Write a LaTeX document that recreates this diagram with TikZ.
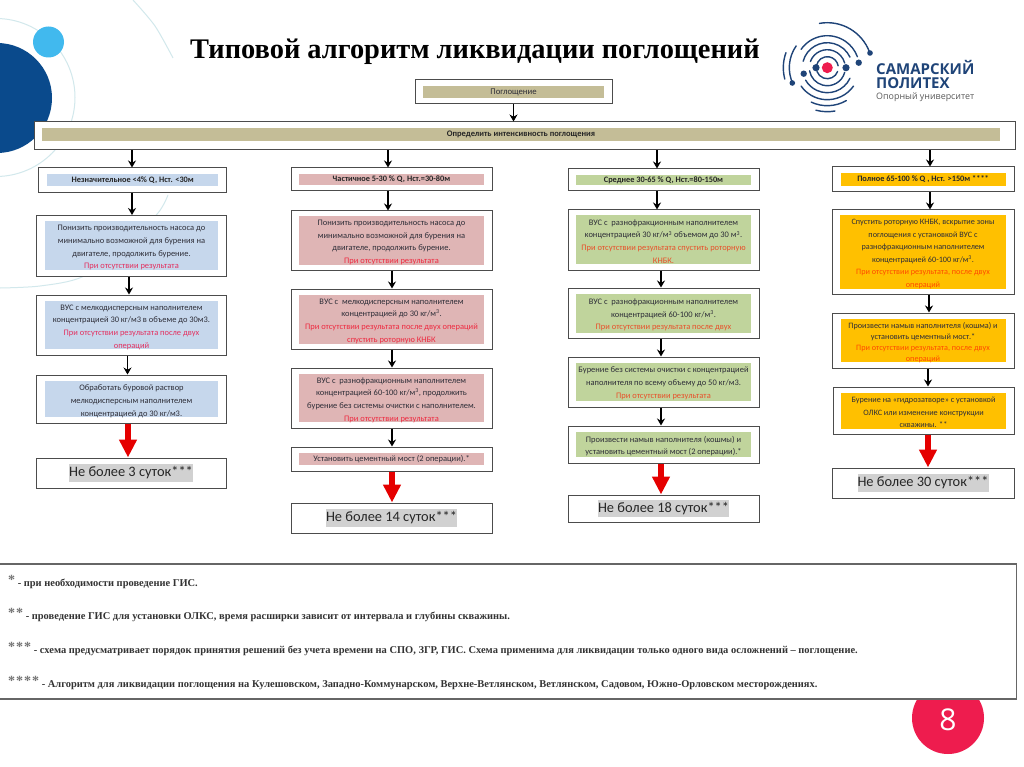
\documentclass[tikz,border=0pt]{standalone}
\usepackage{fontspec}
\setmainfont{Carlito}
\newfontfamily\serifbold{Liberation Serif}
\newfontfamily\logofont{Open Sans}
\usetikzlibrary{arrows.meta,calc}
\definecolor{BlueClr}{HTML}{C6D7EC}
\definecolor{PinkClr}{HTML}{DFB5B5}
\definecolor{GreenClr}{HTML}{C0D49C}
\definecolor{AmberClr}{HTML}{FFC000}
\definecolor{KhakiClr}{HTML}{C4BD97}
\definecolor{ResA}{HTML}{E33060}
\definecolor{ResB}{HTML}{EE2A40}
\definecolor{ResC}{HTML}{E8502A}
\definecolor{ResD}{HTML}{FF4A00}
\definecolor{InkClr}{HTML}{2E2E38}
\definecolor{NavyClr}{HTML}{0A4A8C}
\definecolor{LogoClr}{HTML}{1F4478}
\definecolor{SkyClr}{HTML}{41B9EE}
\definecolor{OrbitClr}{HTML}{D2E8EC}
\definecolor{PageClr}{HTML}{EE1C4E}
\tikzset{
  outerbox/.style={draw=black!70,line width=1pt,fill=white,inner sep=0pt},
  innerbox/.style={inner sep=0pt,align=center,text=InkClr,font=\fontsize{8.45}{12.7}\selectfont},
  headbox/.style={innerbox,text=black!85,font=\fontsize{8.3}{9}\selectfont\bfseries},
  endbox/.style={inner sep=0pt,fill=black!18,text=black!85,font=\fontsize{14.4}{18}\selectfont},
  flowarrow/.style={draw=black,line width=1.1pt,-{Stealth[length=7pt,width=8pt]}},
  redarrow/.style={draw=red!90!black,line width=6pt,-{Triangle[length=18pt,width=17pt]}},
  noteline/.style={anchor=base west,inner sep=0pt,text=black!80,font=\serifbold\fontsize{10.45}{11}\selectfont\bfseries},
  logoarc/.style={draw=LogoClr,line width=1.4pt,line cap=round},
}
\newcommand{\NoteStar}[1]{\raisebox{2pt}{\textcolor{black!55}{\fontsize{14}{14}\selectfont #1}}}
\newcommand{\TopGap}{\rule{0pt}{9.5pt}}
\begin{document}
\begin{tikzpicture}[x=1pt,y=-1pt]
\clip (0,0) rectangle (1024,767);
\fill[white] (0,0) rectangle (1024,767);

% slide background
\draw[OrbitClr,line width=1pt] (-4,97.5) circle[radius=79];
\draw[OrbitClr,line width=1pt] plot[smooth] coordinates {(133,0) (155,26) (173,58)};
\draw[OrbitClr,line width=1pt] plot[smooth] coordinates {(168,195) (158,213) (125,247) (82,277) (40,286) (0,288)};
\fill[NavyClr] (-3,98) circle[radius=55];
\fill[SkyClr] (48.5,42) circle[radius=15.5];
\fill[PageClr] (948,718) circle[radius=36];

% title and logo
\node[anchor=base west,inner sep=0pt,font=\serifbold\fontsize{28.4}{32}\selectfont\bfseries] (title) at (190,59) {Типовой алгоритм ликвидации поглощений};
\foreach \r/\a/\b in {11/190/350,11/20/160,18/200/345,18/15/170,25/195/335,25/25/150,32/215/340,32/35/145,38/155/215,38/60/115,44/165/200,45/260/340,44/80/105}
  \draw[logoarc] ($(827.3,67.7)+(\a:\r)$) arc[start angle=\a,end angle=\b,radius=\r];
\foreach \x/\y/\s in {816/67.7/3.6,846/67.7/3.6,803.7/73.7/3.2,858.7/62.7/3.2,792.3/83/2.8,870/53/2.8}
  \fill[LogoClr] (\x,\y) circle[radius=\s];
\fill[PageClr] (827.3,67.7) circle[radius=5.5];
\node[anchor=base west,inner sep=0pt,text=LogoClr,font=\logofont\fontsize{15}{16}\selectfont\bfseries] (logoa) at (876,75) {САМАРСКИЙ};
\node[anchor=base west,inner sep=0pt,text=LogoClr,font=\logofont\fontsize{15}{16}\selectfont\bfseries] (logob) at (876,89) {ПОЛИТЕХ};
\node[anchor=base west,inner sep=0pt,text=black!65,font=\logofont\fontsize{8.9}{10}\selectfont] (logoc) at (876,100) {Опорный университет};

% top
\node[outerbox,minimum width=197,minimum height=24] (start) at (513.5,92) {};
\node[innerbox,fill=KhakiClr,minimum width=181,minimum height=12,font=\fontsize{8.7}{9}\selectfont] (startt) at (start) {Поглощение};
\node[outerbox,minimum width=981,minimum height=28] (bar) at (524.5,136) {};
\node[innerbox,fill=KhakiClr,minimum width=958,minimum height=13,text=black!85,font=\fontsize{8.5}{9}\selectfont\bfseries] (bart) at (521,134.5) {Определить интенсивность поглощения};
\draw[flowarrow,line width=.8pt] (start.south) -- (start.south |- bar.north);

% column A
\node[outerbox,minimum width=188,minimum height=24.5] (hA) at (132.75,180.25) {};
\node[headbox,fill=BlueClr,minimum width=171,minimum height=12] (hAt) at (hA) {Незначительное <4\% Q, Нст. <30м};
\node[outerbox,minimum width=190,minimum height=60.5] (bA1) at (131.5,245.75) {};
\node[innerbox,fill=BlueClr,minimum width=173,minimum height=48] (bA1t) at (bA1) {\TopGap Понизить производительность насоса до\\минимально возможной для бурения на\\двигателе, продолжить бурение.\\\textcolor{ResA}{При отсутствии результата}};
\node[outerbox,minimum width=189.5,minimum height=60] (bA2) at (131.25,325) {};
\node[innerbox,fill=BlueClr,minimum width=173,minimum height=48] (bA2t) at (131.5,325) {\TopGap ВУС с мелкодисперсным наполнителем\\концентрацией 30 кг/м3 в объеме до 30м3.\\\textcolor{ResA}{При отсутствии результата после двух}\\\textcolor{ResA}{операций}};
\node[outerbox,minimum width=189.5,minimum height=48.5] (bA3) at (131.25,399.25) {};
\node[innerbox,fill=BlueClr,minimum width=173,minimum height=36] (bA3t) at (131.5,399.25) {\TopGap Обработать буровой раствор\\мелкодисперсным наполнителем\\концентрацией до 30 кг/м3.};
\node[outerbox,minimum width=190,minimum height=30] (eA) at (131,473) {};
\node[endbox,minimum width=122,minimum height=18] (eAt) at (eA) {Не более 3 суток***};
\draw[flowarrow] (bar.south -| 132,0) -- (hA.north -| 132,0);
\draw[flowarrow] (hA.south -| 132,0) -- (bA1.north -| 132,0);
\draw[flowarrow] (bA1.south -| 129,0) -- (bA2.north -| 129,0);
\draw[flowarrow] (bA2.south -| 127.5,0) -- (bA3.north -| 127.5,0);
\draw[redarrow] (bA3.south -| 128,0) -- (eA.north -| 128,0);

% column B
\node[outerbox,minimum width=201,minimum height=23] (hB) at (391.5,179.5) {};
\node[headbox,fill=PinkClr,minimum width=185,minimum height=10.5] (hBt) at (hB) {Частичное 5-30 \% Q, Нст.=30-80м};
\node[outerbox,minimum width=201,minimum height=59] (bB1) at (391.5,240.5) {};
\node[innerbox,fill=PinkClr,minimum width=185,minimum height=47] (bB1t) at (bB1) {\TopGap Понизить производительность насоса до\\минимально возможной для бурения на\\двигателе, продолжить бурение.\\\textcolor{ResB}{При отсутствии результата}};
\node[outerbox,minimum width=201,minimum height=60] (bB2) at (391.5,319) {};
\node[innerbox,fill=PinkClr,minimum width=185,minimum height=49] (bB2t) at (bB2) {\TopGap ВУС с~~мелкодисперсным наполнителем\\концентрацией до 30 кг/м\textsuperscript{3}.\\\textcolor{ResB}{При отсутствии результата после двух операций}\\\textcolor{ResB}{спустить роторную КНБК}};
\node[outerbox,minimum width=201,minimum height=60] (bB3) at (391.5,398) {};
\node[innerbox,fill=PinkClr,minimum width=185,minimum height=48] (bB3t) at (bB3) {\TopGap ВУС с~~разнофракционным наполнителем\\концентрацией 60-100 кг/м\textsuperscript{3}, продолжить\\бурение без системы очистки с наполнителем.\\\textcolor{ResB}{При отсутствии результата}};
\node[outerbox,minimum width=201,minimum height=24] (bB4) at (391.5,459) {};
\node[innerbox,fill=PinkClr,minimum width=185,minimum height=12] (bB4t) at (bB4) {Установить цементный мост (2 операции).*};
\node[outerbox,minimum width=201,minimum height=30] (eB) at (391.5,518) {};
\node[endbox,minimum width=130,minimum height=18] (eBt) at (eB) {Не более 14 суток***};
\draw[flowarrow] (bar.south -| 388,0) -- (hB.north -| 388,0);
\draw[flowarrow] (hB.south -| 388,0) -- (bB1.north -| 388,0);
\draw[flowarrow] (bB1.south -| 392,0) -- (bB2.north -| 392,0);
\draw[flowarrow] (bB2.south -| 392,0) -- (bB3.north -| 392,0);
\draw[flowarrow] (bB3.south -| 392,0) -- (bB4.north -| 392,0);
\draw[redarrow] (bB4.south -| 392,0) -- (eB.north -| 392,0);

% column C
\node[outerbox,minimum width=191,minimum height=22] (hC) at (663.5,180) {};
\node[headbox,fill=GreenClr,minimum width=175,minimum height=10.5] (hCt) at (hC) {Среднее 30-65 \% Q, Нст.=80-150м};
\node[outerbox,minimum width=191,minimum height=60] (bC1) at (663.5,240) {};
\node[innerbox,fill=GreenClr,minimum width=175,minimum height=49] (bC1t) at (663.5,239.5) {\TopGap ВУС с~~разнофракционным наполнителем\\концентрацией 30 кг/м\textsuperscript{3} объемом до 30 м\textsuperscript{3}.\\\textcolor{ResC}{При отсутствии результата спустить роторную}\\\textcolor{ResC}{КНБК.}};
\node[outerbox,minimum width=191,minimum height=50] (bC2) at (663.5,313) {};
\node[innerbox,fill=GreenClr,minimum width=175,minimum height=39] (bC2t) at (bC2) {\TopGap ВУС с~~разнофракционным наполнителем\\концентрацией 60-100 кг/м\textsuperscript{3}.\\\textcolor{ResC}{При отсутствии результата после двух}};
\node[outerbox,minimum width=191,minimum height=50] (bC3) at (663.5,382) {};
\node[innerbox,fill=GreenClr,minimum width=175,minimum height=38] (bC3t) at (663.5,381.5) {\TopGap Бурение без системы очистки с концентрацией\\наполнителя по всему объему до 50 кг/м3.\\\textcolor{ResC}{При отсутствии результата}};
\node[outerbox,minimum width=191,minimum height=37] (bC4) at (663.5,444.5) {};
\node[innerbox,fill=GreenClr,minimum width=175,minimum height=25] (bC4t) at (bC4) {\TopGap Произвести намыв наполнителя (кошмы) и\\установить цементный мост (2 операции).*};
\node[outerbox,minimum width=191,minimum height=27] (eC) at (663.5,508.5) {};
\node[endbox,minimum width=130,minimum height=17] (eCt) at (eC) {Не более 18 суток***};
\draw[flowarrow] (bar.south -| 657,0) -- (hC.north -| 657,0);
\draw[flowarrow] (hC.south -| 657,0) -- (bC1.north -| 657,0);
\draw[flowarrow] (bC1.south -| 661,0) -- (bC2.north -| 661,0);
\draw[flowarrow] (bC2.south -| 661,0) -- (bC3.north -| 661,0);
\draw[flowarrow] (bC3.south -| 661,0) -- (bC4.north -| 661,0);
\draw[redarrow] (bC4.south -| 661,0) -- (eC.north -| 661,0);

% column D
\node[outerbox,minimum width=182,minimum height=25] (hD) at (923,179.5) {};
\node[headbox,fill=AmberClr,minimum width=165,minimum height=13] (hDt) at (hD) {Полное 65-100 \% Q , Нст. >150м ****};
\node[outerbox,minimum width=182,minimum height=84] (bD1) at (923,252) {};
\node[innerbox,fill=AmberClr,minimum width=166,minimum height=72,font=\fontsize{8.2}{12.5}\selectfont] (bD1t) at (bD1) {\TopGap Спустить роторную КНБК, вскрытие зоны\\поглощения с установкой ВУС с\\разнофракционным наполнителем\\концентрацией 60-100 кг/м\textsuperscript{3}.\\\textcolor{ResD}{При отсутствии результата, после двух}\\\textcolor{ResD}{операций}};
\node[outerbox,minimum width=182,minimum height=55] (bD2) at (923,340.5) {};
\node[innerbox,fill=AmberClr,minimum width=165,minimum height=43,font=\fontsize{8.2}{11}\selectfont] (bD2t) at (bD2) {\TopGap Произвести намыв наполнителя (кошма) и\\установить цементный мост.*\\\textcolor{ResD}{При отсутствии результата, после двух}\\\textcolor{ResD}{операций}};
\node[outerbox,minimum width=181,minimum height=47] (bD3) at (923.5,410.5) {};
\node[innerbox,fill=AmberClr,minimum width=165,minimum height=36,font=\fontsize{8.2}{12.5}\selectfont] (bD3t) at (bD3) {\TopGap Бурение на «гидрозатворе» с установкой\\ОЛКС или изменение конструкции\\скважины. **};
\node[outerbox,minimum width=182,minimum height=30] (eD) at (923,483) {};
\node[endbox,minimum width=130,minimum height=18] (eDt) at (eD) {Не более 30 суток***};
\draw[flowarrow] (bar.south -| 930,0) -- (hD.north -| 930,0);
\draw[flowarrow] (hD.south -| 930,0) -- (bD1.north -| 930,0);
\draw[flowarrow] (bD1.south -| 929,0) -- (bD2.north -| 929,0);
\draw[flowarrow] (bD2.south -| 928,0) -- (bD3.north -| 928,0);
\draw[redarrow] (bD3.south -| 928,0) -- (eD.north -| 928,0);

% notes
\draw[draw=black!60,line width=1.2pt,fill=white] (-2,564) rectangle (1016.5,699);
\node[noteline] (noteA) at (8,586) {\NoteStar{*} - при необходимости проведение ГИС.};
\node[noteline] (noteB) at (8,619) {\NoteStar{*\kern1pt*} - проведение ГИС для установки ОЛКС, время расширки зависит от интервала и глубины скважины.};
\node[noteline] (noteC) at (8,653) {\NoteStar{*\kern1pt*\kern1pt*} - схема предусматривает порядок принятия решений без учета времени на СПО, ЗГР, ГИС. Схема применима для ликвидации только одного вида осложнений – поглощение.};
\node[noteline] (noteD) at (8,687) {\NoteStar{*\kern1pt*\kern1pt*\kern1pt*} - Алгоритм для ликвидации поглощения на Кулешовском, Западно-Коммунарском, Верхне-Ветлянском, Ветлянском, Садовом, Южно-Орловском месторождениях.};
\node[text=white,font=\logofont\fontsize{30}{32}\selectfont] (pagenum) at (948,720) {8};
\end{tikzpicture}
\end{document}
